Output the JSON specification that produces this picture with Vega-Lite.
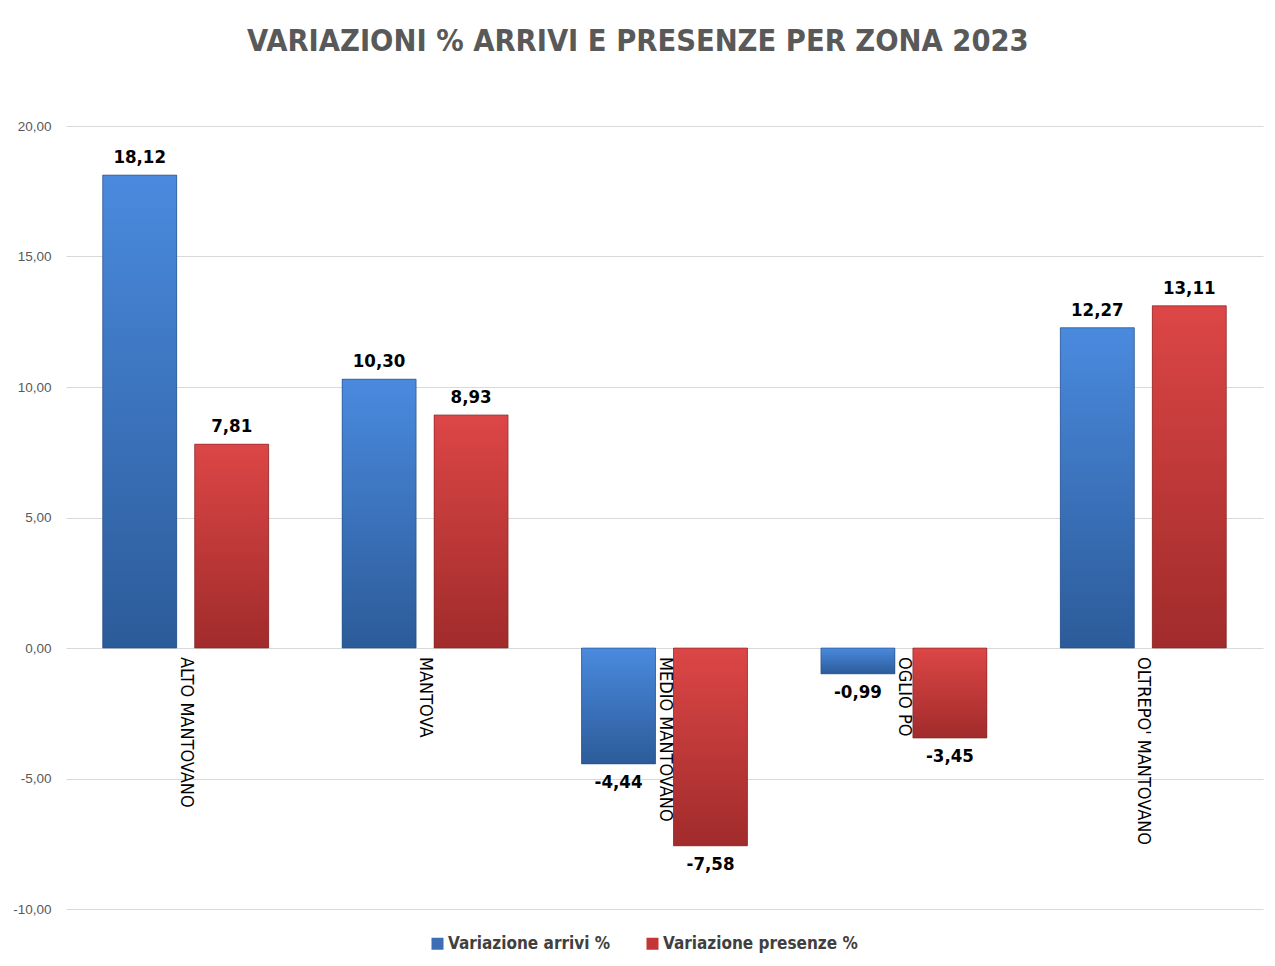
{
  "$schema": "https://vega.github.io/schema/vega-lite/v6.json",
  "width": 1197,
  "height": 783,
  "padding": {"left": 12, "top": 26, "right": 13, "bottom": 5},
  "autosize": {"type": "pad"},
  "background": "white",
  "title": {
    "text": "VARIAZIONI % ARRIVI E PRESENZE PER ZONA 2023",
    "font": "Liberation Sans Narrow, DejaVu Sans Condensed, sans-serif",
    "fontSize": 30.5,
    "fontWeight": "bold",
    "color": "#595959",
    "anchor": "middle",
    "frame": "bounds",
    "offset": 62
  },
  "config": {
    "locale": {
      "number": {"decimal": ",", "thousands": ".", "grouping": [3], "currency": ["", " €"], "minus": "-"}
    },
    "view": {"stroke": null},
    "axis": {"labelFont": "Liberation Sans, sans-serif"}
  },
  "data": {
    "values": [
      {"zona": "ALTO MANTOVANO", "serie": "Variazione arrivi %", "valore": 18.12},
      {"zona": "ALTO MANTOVANO", "serie": "Variazione presenze %", "valore": 7.81},
      {"zona": "MANTOVA", "serie": "Variazione arrivi %", "valore": 10.30},
      {"zona": "MANTOVA", "serie": "Variazione presenze %", "valore": 8.93},
      {"zona": "MEDIO MANTOVANO", "serie": "Variazione arrivi %", "valore": -4.44},
      {"zona": "MEDIO MANTOVANO", "serie": "Variazione presenze %", "valore": -7.58},
      {"zona": "OGLIO PO", "serie": "Variazione arrivi %", "valore": -0.99},
      {"zona": "OGLIO PO", "serie": "Variazione presenze %", "valore": -3.45},
      {"zona": "OLTREPO' MANTOVANO", "serie": "Variazione arrivi %", "valore": 12.27},
      {"zona": "OLTREPO' MANTOVANO", "serie": "Variazione presenze %", "valore": 13.11}
    ]
  },
  "encoding": {
    "x": {
      "field": "zona",
      "type": "nominal",
      "sort": null,
      "scale": {"paddingInner": 0.307, "paddingOuter": 0.1535},
      "axis": null
    },
    "y": {
      "field": "valore",
      "type": "quantitative",
      "scale": {"domain": [-10, 20], "nice": false, "zero": false},
      "axis": {
        "title": null,
        "values": [-10, -5, 0, 5, 10, 15, 20],
        "format": ".2f",
        "domain": false,
        "ticks": false,
        "grid": true,
        "gridColor": "#d9d9d9",
        "gridWidth": 1,
        "labelPadding": 15,
        "labelFontSize": 13.5,
        "labelColor": "#595959"
      }
    }
  },
  "layer": [
    {
      "mark": {"type": "bar"},
      "encoding": {
        "xOffset": {
          "field": "serie",
          "type": "nominal",
          "scale": {"paddingInner": 0.196, "paddingOuter": 0}
        },
        "y2": {"datum": 0},
        "color": {
          "field": "serie",
          "type": "nominal",
          "scale": {
            "domain": ["Variazione arrivi %", "Variazione presenze %"],
            "range": ["#3a6fb8", "#c23636"]
          },
          "legend": {
            "title": null,
            "orient": "none",
            "legendX": 363,
            "legendY": 809,
            "direction": "horizontal",
            "padding": 0,
            "symbolType": "square",
            "symbolSize": 144,
            "symbolStrokeWidth": 0,
            "labelFont": "Liberation Sans Narrow, DejaVu Sans Condensed, sans-serif",
            "labelFontSize": 17,
            "labelFontWeight": "bold",
            "labelColor": "#404040",
            "columnPadding": 33,
            "labelOffset": 2,
            "labelLimit": 400
          }
        }
      }
    },
    {
      "transform": [{"filter": "datum.serie == 'Variazione arrivi %'"}],
      "mark": {
        "type": "bar",
        "stroke": "#234a7e",
        "strokeWidth": 1,
        "strokeOpacity": 0.6,
        "fill": {"gradient": "linear", "x1": 0, "y1": 0, "x2": 0, "y2": 1,
          "stops": [{"offset": 0, "color": "#4a8ade"}, {"offset": 1, "color": "#2c5b99"}]}
      },
      "encoding": {
        "xOffset": {"field": "serie", "type": "nominal", "scale": {"paddingInner": 0.196, "paddingOuter": 0}},
        "y2": {"datum": 0}
      }
    },
    {
      "transform": [{"filter": "datum.serie == 'Variazione presenze %'"}],
      "mark": {
        "type": "bar",
        "stroke": "#7e2323",
        "strokeWidth": 1,
        "strokeOpacity": 0.6,
        "fill": {"gradient": "linear", "x1": 0, "y1": 0, "x2": 0, "y2": 1,
          "stops": [{"offset": 0, "color": "#dc4646"}, {"offset": 1, "color": "#a12b2b"}]}
      },
      "encoding": {
        "xOffset": {"field": "serie", "type": "nominal", "scale": {"paddingInner": 0.196, "paddingOuter": 0}},
        "y2": {"datum": 0}
      }
    },
    {
      "transform": [{"filter": "datum.valore >= 0"}],
      "mark": {"type": "text", "baseline": "bottom", "dy": -8, "fontSize": 18.5, "fontWeight": "bold", "font": "Liberation Sans Narrow, DejaVu Sans Condensed, sans-serif", "color": "#000000"},
      "encoding": {
        "xOffset": {"field": "serie", "type": "nominal", "scale": {"paddingInner": 0.196, "paddingOuter": 0}},
        "text": {"field": "valore", "type": "quantitative", "format": ".2f"}
      }
    },
    {
      "transform": [{"filter": "datum.valore < 0"}],
      "mark": {"type": "text", "baseline": "top", "dy": 9, "fontSize": 18.5, "fontWeight": "bold", "font": "Liberation Sans Narrow, DejaVu Sans Condensed, sans-serif", "color": "#000000"},
      "encoding": {
        "xOffset": {"field": "serie", "type": "nominal", "scale": {"paddingInner": 0.196, "paddingOuter": 0}},
        "text": {"field": "valore", "type": "quantitative", "format": ".2f"}
      }
    },
    {
      "transform": [{"filter": "datum.serie == 'Variazione arrivi %'"}],
      "mark": {"type": "text", "angle": 90, "align": "left", "baseline": "middle", "dx": 9, "fontSize": 18, "font": "Liberation Sans Narrow, DejaVu Sans Condensed, sans-serif", "color": "#000000"},
      "encoding": {
        "y": {"datum": 0},
        "text": {"field": "zona", "type": "nominal"}
      }
    }
  ]
}
